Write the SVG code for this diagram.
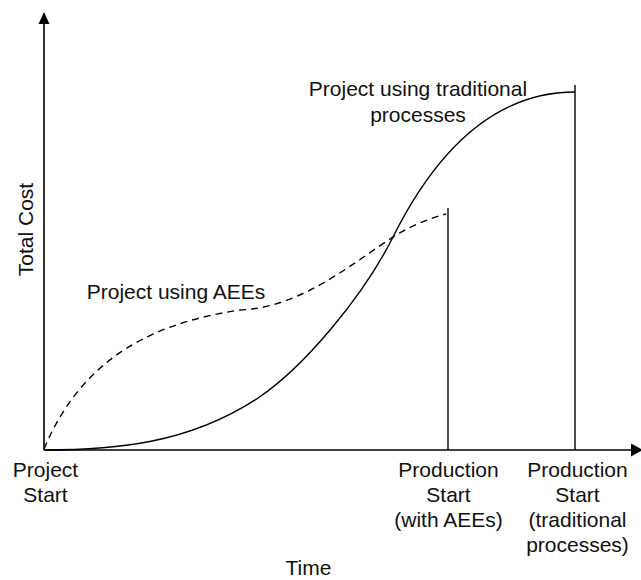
<svg xmlns="http://www.w3.org/2000/svg" width="641" height="580" viewBox="0 0 641 580">
<style>
text{font-family:"Liberation Sans",Arial,sans-serif;font-size:21px;fill:#111;text-anchor:middle}
.ax{stroke:#000;stroke-width:1.6;fill:none}
.ln{stroke:#000;stroke-width:1.4;fill:none}
.ds{stroke:#000;stroke-width:1.4;fill:none;stroke-dasharray:7 5}
</style>
<rect width="641" height="580" fill="#fff"/>
<g id="axes">
<line class="ax" x1="44" y1="450" x2="44" y2="22"/>
<polygon points="44,12 38.5,24 49.5,24" fill="#000"/>
<line class="ax" x1="44" y1="450" x2="633" y2="450"/>
<polygon points="643,450 631,443.5 631,456.5" fill="#000"/>
</g>
<g id="connectors">
<line class="ln" x1="448" y1="208" x2="448" y2="450"/>
<line class="ln" x1="575" y1="85" x2="575" y2="450"/>
<path id="traditional-curve" class="ln" d="M44,450 C114,450 188,444 258,398 C303,368 363,297 393,237 C440,143 500,92 575,92"/>
<path id="aee-curve" class="ds" d="M44,449 C84,353 160,322 240,310 C300,308 353,263 393,237 C410,226 428,219 446,214"/>
</g>
<g id="y-label"><text transform="translate(33,229.5) rotate(-90)">Total Cost</text></g>
<g id="aee-label"><text x="176" y="299">Project using AEEs</text></g>
<g id="traditional-label"><text x="418" y="96">Project using traditional</text><text x="418" y="122">processes</text></g>
<g id="project-start"><text x="45.5" y="477">Project</text><text x="45.5" y="502">Start</text></g>
<g id="prod-aee"><text x="448.5" y="477">Production</text><text x="448.5" y="502">Start</text><text x="448.5" y="527">(with AEEs)</text></g>
<g id="prod-trad"><text x="577.5" y="477">Production</text><text x="577.5" y="502">Start</text><text x="577.5" y="527">(traditional</text><text x="577.5" y="552">processes)</text></g>
<g id="x-label"><text x="308.5" y="575">Time</text></g>
</svg>
